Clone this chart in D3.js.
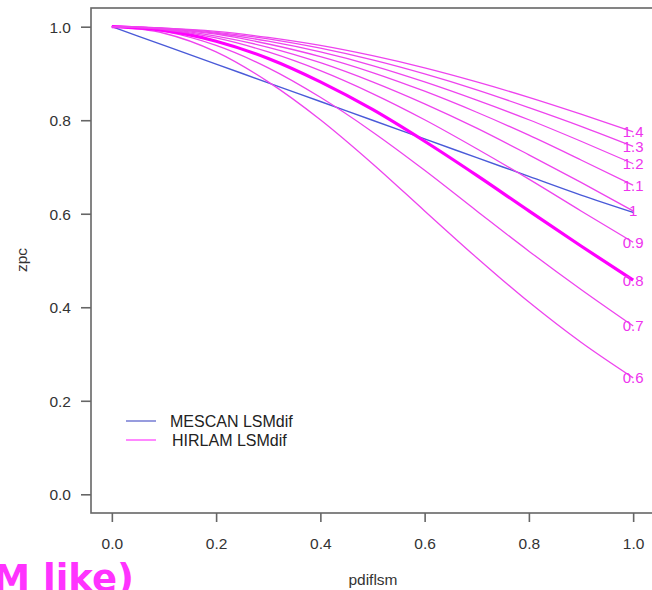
<!DOCTYPE html>
<html>
<head>
<meta charset="utf-8">
<script src="https://cdn.jsdelivr.net/npm/d3@7/dist/d3.min.js"></script>
<style>
  html, body { margin: 0; padding: 0; background: #fff; }
  svg { display: block; }
</style>
</head>
<body>
<svg id="chart" width="652" height="590"></svg>
<script>
// ---- data ----
const xs = [0, 0.1, 0.2, 0.3, 0.4, 0.5, 0.6, 0.7, 0.8, 0.9, 1.0];
const mescan = [1.0, 0.96, 0.92, 0.88, 0.84, 0.80, 0.76, 0.72, 0.68, 0.64, 0.603];
const hirlamLabels = ["0.6", "0.7", "0.8", "0.9", "1", "1.1", "1.2", "1.3", "1.4"];
const h06 = [1, 0.986, 0.946, 0.882, 0.801, 0.707, 0.606, 0.506, 0.411, 0.325, 0.249];
const h07 = [1, 0.990, 0.960, 0.912, 0.849, 0.775, 0.693, 0.606, 0.520, 0.438, 0.360];
const h08 = [1, 0.992, 0.969, 0.932, 0.882, 0.823, 0.755, 0.682, 0.606, 0.531, 0.458];
const h09 = [1, 0.994, 0.976, 0.946, 0.906, 0.857, 0.801, 0.739, 0.674, 0.606, 0.539];
const h10 = [1, 0.995, 0.980, 0.956, 0.923, 0.882, 0.835, 0.783, 0.726, 0.667, 0.606];
const h11 = [1, 0.996, 0.984, 0.963, 0.936, 0.902, 0.862, 0.817, 0.768, 0.715, 0.661];
const h12 = [1, 0.996, 0.986, 0.969, 0.946, 0.917, 0.882, 0.843, 0.801, 0.755, 0.707];
const h13 = [1, 0.997, 0.988, 0.974, 0.954, 0.929, 0.899, 0.865, 0.827, 0.787, 0.744];
const h14 = [1, 0.997, 0.990, 0.977, 0.960, 0.938, 0.912, 0.882, 0.849, 0.813, 0.775];
const hirlam = [h06, h07, h08, h09, h10, h11, h12, h13, h14];
const xTicks = [0, 0.2, 0.4, 0.6, 0.8, 1.0];
const yTicks = [0, 0.2, 0.4, 0.6, 0.8, 1.0];
const legendLabels = ["MESCAN LSMdif", "HIRLAM LSMdif"];

// ---- layout ----
const svg = d3.select("#chart");
const box = { left: 91, right: 654, top: 8, bottom: 513 };
const x = d3.scaleLinear().domain([-0.04, 1.04]).range([box.left, box.right]);
const y = d3.scaleLinear().domain([-0.04, 1.04]).range([box.bottom, box.top]);
const font = "'Liberation Sans', Arial, Helvetica, sans-serif";

// plot box
svg.append("rect")
  .attr("x", box.left).attr("y", box.top)
  .attr("width", box.right - box.left).attr("height", box.bottom - box.top)
  .attr("fill", "none").attr("stroke", "#666").attr("stroke-width", 1.6);

// axes
const xAxis = svg.append("g").attr("transform", `translate(0,${box.bottom})`)
  .call(d3.axisBottom(x).tickValues(xTicks).tickFormat(d3.format(".1f")).tickSize(9).tickPadding(16));
const yAxis = svg.append("g").attr("transform", `translate(${box.left},0)`)
  .call(d3.axisLeft(y).tickValues(yTicks).tickFormat(d3.format(".1f")).tickSize(10).tickPadding(10));
[xAxis, yAxis].forEach(g => {
  g.select(".domain").remove();
  g.selectAll(".tick line").attr("stroke", "#666").attr("stroke-width", 1.6);
  g.selectAll(".tick text").attr("fill", "#333").style("font-family", font).style("font-size", "15.5px");
});
yAxis.selectAll(".tick text").attr("dy", "0.36em");

// axis titles
svg.append("text").attr("x", 373).attr("y", 585).attr("text-anchor", "middle")
  .attr("fill", "#333").style("font-family", font).style("font-size", "15.5px").text("pdiflsm");
svg.append("text").attr("transform", "translate(27,260) rotate(-90)").attr("text-anchor", "middle")
  .attr("fill", "#333").style("font-family", font).style("font-size", "15.5px").text("zpc");

// lines
const line = d3.line().x((d, i) => x(xs[i])).y(d => y(d)).curve(d3.curveMonotoneX);
svg.append("path").datum(mescan).attr("d", line)
  .attr("fill", "none").attr("stroke", "#4a5ad8").attr("stroke-width", 1.4);
hirlam.forEach((s, i) => {
  const thick = hirlamLabels[i] === "0.8";
  svg.append("path").datum(s).attr("d", line)
    .attr("fill", "none")
    .attr("stroke", thick ? "#ff00ff" : "#ee44ee")
    .attr("stroke-width", thick ? 3.2 : 1.3);
});
// curve labels
hirlam.forEach((s, i) => {
  svg.append("text")
    .attr("x", x(1)).attr("y", y(s[s.length - 1]))
    .attr("dy", "0.36em").attr("text-anchor", "middle")
    .attr("fill", "#ee33ee").style("font-family", font).style("font-size", "15px")
    .text(hirlamLabels[i]);
});

// legend
const legendColors = ["#6a72d0", "#ff88ff"];
legendLabels.forEach((t, i) => {
  const ly = 421 + i * 19;
  svg.append("line").attr("x1", 126).attr("x2", 156).attr("y1", ly).attr("y2", ly)
    .attr("stroke", legendColors[i]).attr("stroke-width", i === 0 ? 1.4 : 2);
  svg.append("text").attr("x", 170 + i * 2).attr("y", ly).attr("dy", "0.36em")
    .attr("fill", "#222").style("font-family", font).style("font-size", "16px").text(t);
});

// overlapping slide title fragment
svg.append("text").attr("x", 134).attr("y", 591).attr("text-anchor", "end")
  .attr("fill", "#ff33ff").style("font-family", "'DejaVu Sans', sans-serif")
  .style("font-weight", "bold").style("font-size", "37px").text("(LSM like)");
</script>
</body>
</html>
